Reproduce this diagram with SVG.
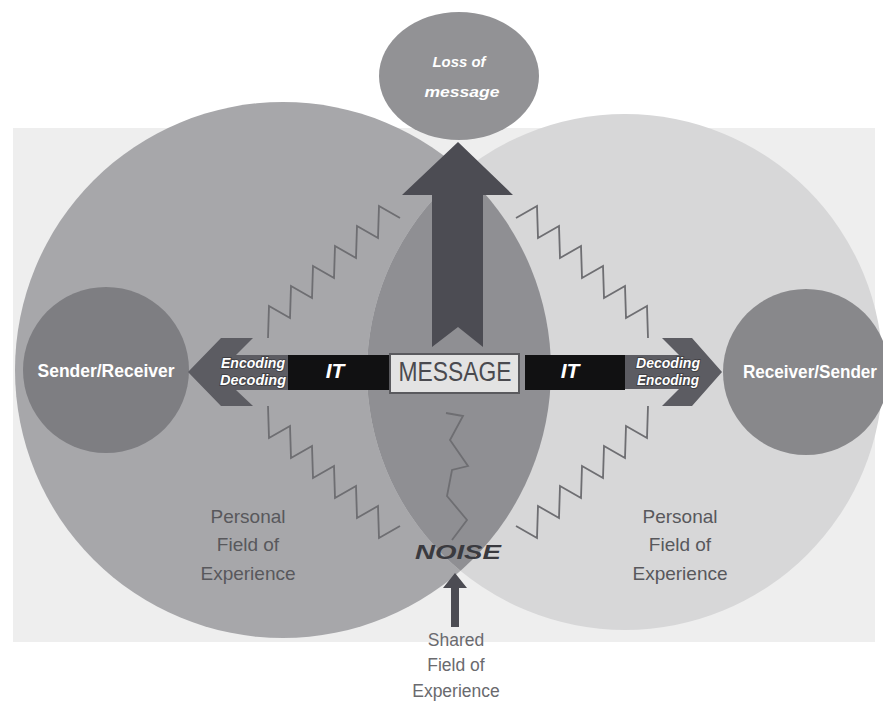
<svg xmlns="http://www.w3.org/2000/svg" width="883" height="709" viewBox="0 0 883 709">
  <style>
    .lbl { font-family: "Liberation Sans", Arial, sans-serif; }
    .white-it { fill: #ffffff; font-weight: bold; font-style: italic; }
    .outlined { fill: #ffffff; stroke: #3a3a3e; stroke-width: 1.6; paint-order: stroke; font-weight: bold; font-style: italic; }
    .field { fill: #58585c; font-size: 19px; }
    .zig { fill: none; stroke: #6e6e72; stroke-width: 1.8; stroke-linejoin: miter; }
  </style>
  <defs>
    <clipPath id="leftField">
      <circle cx="283" cy="370" r="268"/>
    </clipPath>
    <!-- one sawtooth noise line; the other three are mirrored copies -->
    <polyline id="zz" class="zig" points="268,338 269,306 290,318 291,286 312,298 313,266 334,278 335,246 356,258 357,226 378,238 379,206 400,218"/>
  </defs>

  <rect x="0" y="0" width="883" height="709" fill="#ffffff"/>
  <!-- pale backing panel -->
  <rect x="13" y="128" width="862" height="514" fill="#eeeeee"/>

  <!-- top node: loss of message -->
  <g id="loss-of-message">
    <ellipse cx="459" cy="76" rx="80" ry="64" fill="#929295"/>
    <text class="lbl white-it" x="459" y="67" font-size="15" text-anchor="middle" textLength="53" lengthAdjust="spacingAndGlyphs">Loss of</text>
    <text class="lbl white-it" x="462" y="97" font-size="15" text-anchor="middle" textLength="75" lengthAdjust="spacingAndGlyphs">message</text>
  </g>

  <!-- personal fields of experience -->
  <g id="field-left">
    <circle cx="283" cy="370" r="268" fill="#a7a7aa"/>
    <text class="lbl field" text-anchor="middle" x="248" y="523">Personal</text>
    <text class="lbl field" text-anchor="middle" x="248" y="551">Field of</text>
    <text class="lbl field" text-anchor="middle" x="248" y="580">Experience</text>
  </g>
  <g id="field-right">
    <circle cx="625" cy="372" r="258" fill="#d7d7d8"/>
    <text class="lbl field" text-anchor="middle" x="680" y="523">Personal</text>
    <text class="lbl field" text-anchor="middle" x="680" y="551">Field of</text>
    <text class="lbl field" text-anchor="middle" x="680" y="580">Experience</text>
  </g>
  <!-- overlap of both fields -->
  <g id="shared-field">
    <circle cx="625" cy="372" r="258" fill="#8f8f93" clip-path="url(#leftField)"/>
  </g>

  <!-- end nodes -->
  <g id="sender-receiver">
    <circle cx="106" cy="370" r="83" fill="#7e7e82"/>
    <text class="lbl" x="106" y="377" font-size="18" font-weight="bold" fill="#ffffff" text-anchor="middle" textLength="137" lengthAdjust="spacingAndGlyphs">Sender/Receiver</text>
  </g>
  <g id="receiver-sender">
    <circle cx="806" cy="372" r="83" fill="#88888b"/>
    <text class="lbl" x="810" y="378" font-size="18" font-weight="bold" fill="#ffffff" text-anchor="middle" textLength="134" lengthAdjust="spacingAndGlyphs">Receiver/Sender</text>
  </g>

  <g id="connectors">
    <!-- noise zigzags -->
    <use href="#zz"/>
    <use href="#zz" transform="translate(916,0) scale(-1,1)"/>
    <use href="#zz" transform="translate(0,744) scale(1,-1)"/>
    <use href="#zz" transform="translate(916,744) scale(-1,-1)"/>
    <polyline class="zig" points="446,413 463,416 450,440 468,466 452,470 447,496 467,520 452,540"/>

    <!-- message lost upwards -->
    <polygon points="458,142 513,195 483,195 483,347 458,327 432,347 432,195 402,195" fill="#4c4c53"/>

    <!-- channel to the left node -->
    <polygon points="188,372 221,338 253,338 236,355 290,355 290,390 236,390 253,406 221,406" fill="#5c5c62"/>
    <!-- channel to the right node -->
    <polygon points="625,355 679,355 662,338 692,338 722,372 692,406 662,406 679,389 625,389" fill="#5c5c62"/>

    <rect x="288" y="355" width="102" height="35" fill="#111112"/>
    <rect x="525" y="355" width="100" height="35" fill="#111112"/>

    <!-- shared field pointer -->
    <polygon points="455,573 467,588 459,588 459,627 451,627 451,588 443,588" fill="#4c4c53"/>
  </g>

  <g id="message">
    <rect x="390" y="354" width="129" height="39" fill="#e3e3e3" stroke="#5a5a5e" stroke-width="2"/>
    <text class="lbl" x="455" y="381" font-size="27" fill="#4a4a4f" text-anchor="middle" textLength="113" lengthAdjust="spacingAndGlyphs">MESSAGE</text>
  </g>

  <g id="it-left">
    <text class="lbl white-it" x="335" y="378" font-size="21" text-anchor="middle">IT</text>
  </g>
  <g id="it-right">
    <text class="lbl white-it" x="570" y="378" font-size="21" text-anchor="middle">IT</text>
  </g>

  <g id="coding-left">
    <text class="lbl outlined" x="253" y="368" font-size="14" text-anchor="middle" textLength="64" lengthAdjust="spacingAndGlyphs">Encoding</text>
    <text class="lbl outlined" x="253" y="385" font-size="14" text-anchor="middle" textLength="66" lengthAdjust="spacingAndGlyphs">Decoding</text>
  </g>
  <g id="coding-right">
    <text class="lbl outlined" x="668" y="368" font-size="14" text-anchor="middle" textLength="64" lengthAdjust="spacingAndGlyphs">Decoding</text>
    <text class="lbl outlined" x="668" y="385" font-size="14" text-anchor="middle" textLength="62" lengthAdjust="spacingAndGlyphs">Encoding</text>
  </g>

  <g id="noise">
    <text class="lbl" x="458" y="559" font-size="20" font-weight="bold" font-style="italic" fill="#3a3a3f" text-anchor="middle" textLength="86" lengthAdjust="spacingAndGlyphs">NOISE</text>
  </g>

  <g id="shared-label">
    <text class="lbl" fill="#6a6a6e" font-size="17.5" text-anchor="middle" x="456" y="646">Shared</text>
    <text class="lbl" fill="#6a6a6e" font-size="17.5" text-anchor="middle" x="456" y="671">Field of</text>
    <text class="lbl" fill="#6a6a6e" font-size="17.5" text-anchor="middle" x="456" y="697">Experience</text>
  </g>
</svg>
